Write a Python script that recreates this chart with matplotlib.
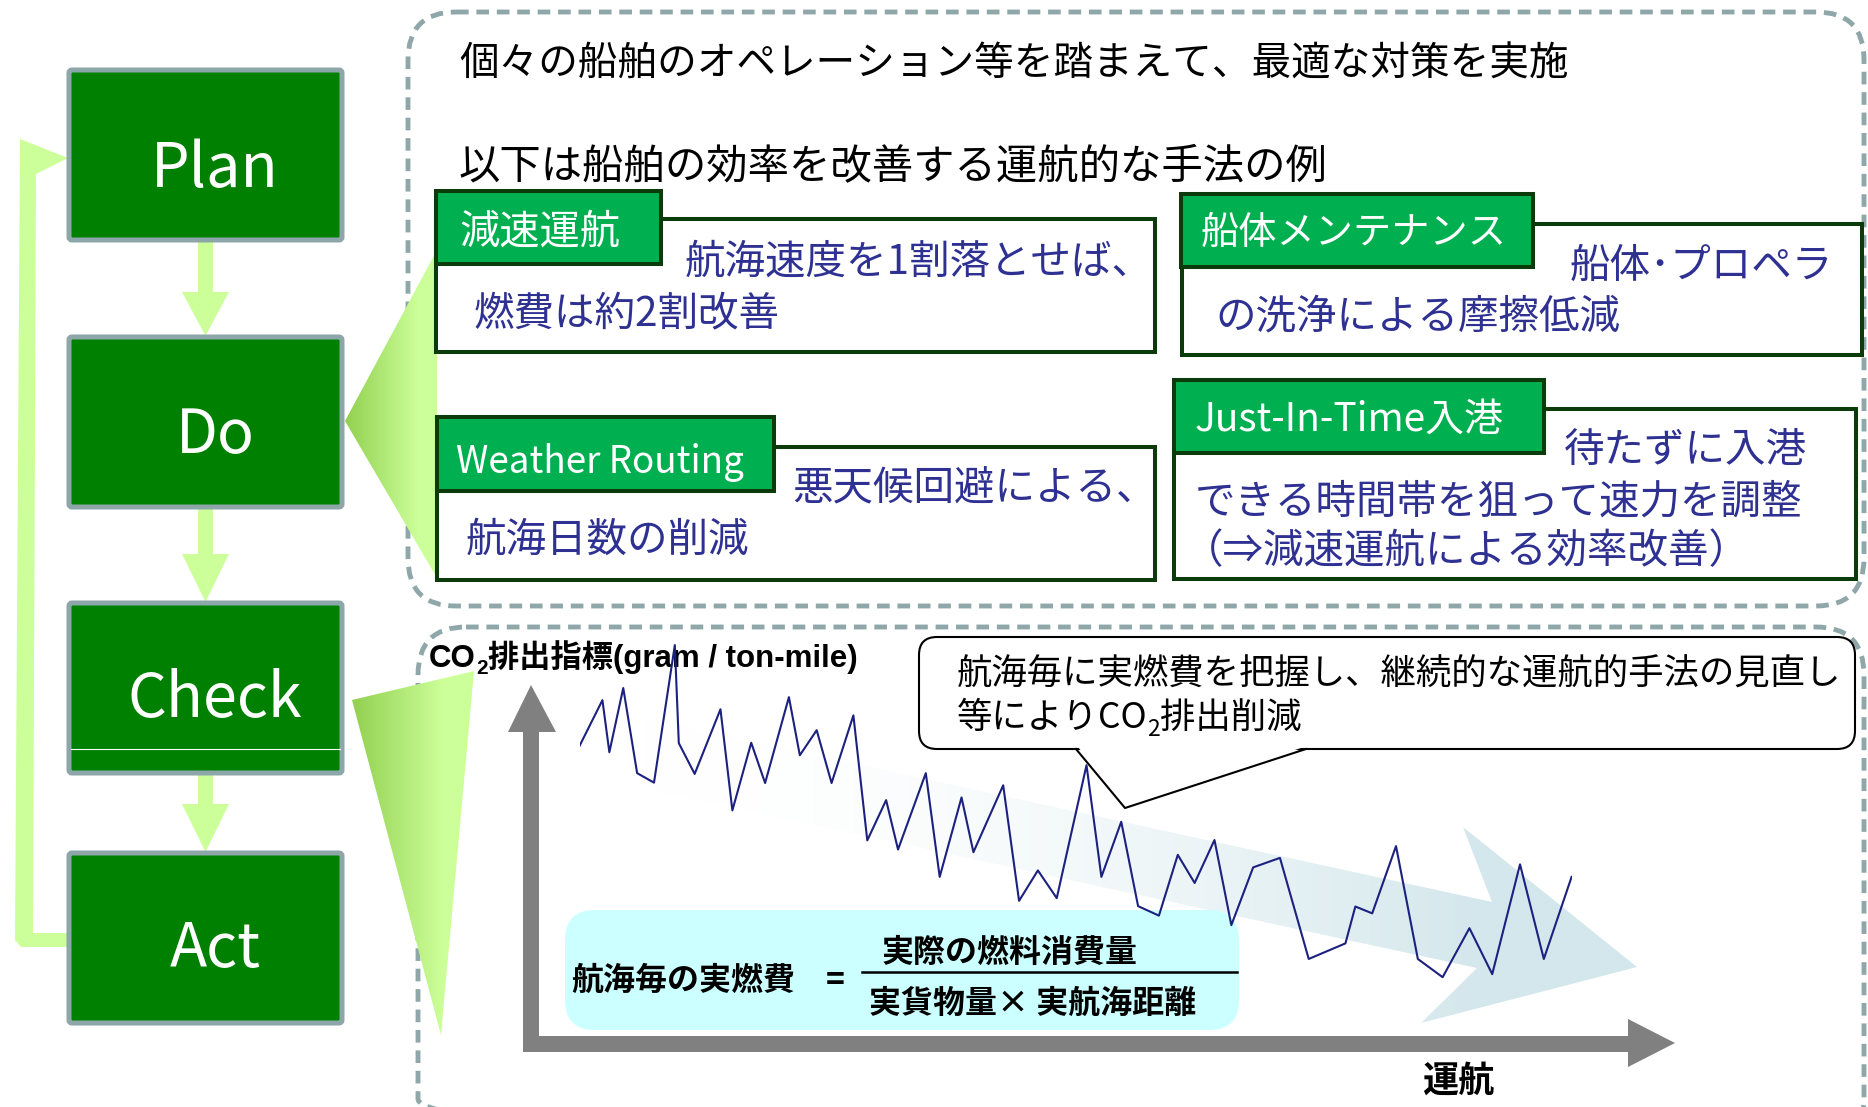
import matplotlib.pyplot as plt
import numpy as np
from matplotlib.patches import FancyBboxPatch, Polygon
from matplotlib.colors import to_rgb

plt.rcParams['font.family'] = ['Noto Sans CJK JP', 'DejaVu Sans']

# CO2 index per voyage (arbitrary units)
voyage = [0, 2.3, 3.0, 4.4, 5.8, 7.5, 9.6, 10.0, 11.6, 14.2, 15.4, 17.3, 18.7,
          21.1, 22.2, 23.9, 25.4, 27.6, 29.0, 30.9, 32.1, 34.9, 36.3, 38.5,
          39.7, 42.7, 44.3, 46.2, 48.1, 51.1, 52.6, 54.6, 56.3, 58.4, 60.3,
          62.0, 64.0, 65.7, 67.9, 70.6, 73.5, 77.2, 78.2, 79.9, 82.3, 84.5,
          87.0, 89.7, 92.0, 94.8, 97.2, 100]
co2_index = [66.9, 78.9, 65.2, 82.1, 59.7, 57.2, 93.4, 67.6, 59.5, 76.5, 49.9,
             67.7, 57.1, 79.7, 64.4, 71.0, 57.1, 74.9, 42.0, 52.6, 39.6, 59.7,
             32.4, 53.3, 38.9, 56.5, 26.1, 34.1, 26.8, 61.8, 32.4, 46.9, 24.7,
             22.2, 38.2, 30.8, 42.1, 19.7, 34.9, 37.4, 10.8, 14.9, 24.6, 22.8,
             40.5, 10.8, 6.0, 18.9, 6.8, 35.7, 10.8, 32.4]

pdca_labels = ['Plan', 'Do', 'Check', 'Act']
intro_lines = ['個々の船舶のオペレーション等を踏まえて、最適な対策を実施',
               '以下は船舶の効率を改善する運航的な手法の例']
measure_titles = ['減速運航', '船体メンテナンス', 'Weather Routing', 'Just-In-Time入港']
measure_texts = [['航海速度を1割落とせば、', '燃費は約2割改善'],
                 ['船体･プロペラ', 'の洗浄による摩擦低減'],
                 ['悪天候回避による、', '航海日数の削減'],
                 ['待たずに入港', 'できる時間帯を狙って速力を調整', '（⇒減速運航による効率改善）']]
callout_lines = ['航海毎に実燃費を把握し、継続的な運航的手法の見直し', '等により', 'CO', '2', '排出削減']
formula = ['航海毎の実燃費', '=', '実際の燃料消費量', '実貨物量× 実航海距離']
ylabel_parts = ['CO', '2', '排出指標(gram / ton-mile)']
xlabel = '運航'

W, H = 1868, 1107
fig = plt.figure(figsize=(W / 100, H / 100), dpi=100)
ax = fig.add_axes([0, 0, 1, 1])
ax.set_xlim(0, W)
ax.set_ylim(H, 0)
ax.axis('off')
rend = fig.canvas.get_renderer()

NAVY = '#2E3192'
DKGREEN = '#0B3B0B'
GREEN = '#00B050'
LIGHT = '#CCFF99'
DASH = '#8FA7A8'


def grad_poly(pts, c0, c1, z, a0=1.0, a1=1.0, x_stop=None):
    poly = Polygon(pts, closed=True, fc='none', ec='none')
    ax.add_patch(poly)
    xs = [p[0] for p in pts]
    ys = [p[1] for p in pts]
    x0, x1 = min(xs), max(xs)
    g = np.linspace(0, 1, 256)
    if x_stop is not None:
        g = np.clip(g / x_stop, 0, 1)
    c0, c1 = np.array(to_rgb(c0)), np.array(to_rgb(c1))
    rgba = np.zeros((1, 256, 4))
    rgba[0, :, :3] = c0 + (c1 - c0) * g[:, None]
    rgba[0, :, 3] = a0 + (a1 - a0) * g
    im = ax.imshow(rgba, extent=[x0, x1, max(ys), min(ys)], aspect='auto',
                   zorder=z, interpolation='bilinear')
    im.set_clip_path(poly)


def run_text(x, y, parts, **kw):
    for s, size, dy in parts:
        t = ax.text(x, y + dy, s, fontsize=size, ha='left', va='baseline', **kw)
        x += t.get_window_extent(renderer=rend).width
    return x


# dashed containers
ax.add_patch(FancyBboxPatch((408, 12), 1456, 594, boxstyle='round,pad=0,rounding_size=48',
                            fc='none', ec=DASH, lw=3.5, ls=(0, (2.6, 1.6)), zorder=1))
ax.add_patch(FancyBboxPatch((418, 627), 1446, 520, boxstyle='round,pad=0,rounding_size=48',
                            fc='none', ec=DASH, lw=3.5, ls=(0, (2.6, 1.6)), zorder=1))

# PDCA boxes
box_tops = [70, 337, 603, 853]
box_h = 170
base_y = [187, 453, 717, 967]
for lab, y0, by in zip(pdca_labels, box_tops, base_y):
    ax.add_patch(FancyBboxPatch((69, y0), 273, box_h, boxstyle='round,pad=0,rounding_size=3',
                                fc='#008000', ec='#8DA6A9', lw=3.6, zorder=3))
    ax.text(215, by, lab, color='white', fontsize=44, ha='center', va='baseline',
            family=['Liberation Sans Narrow', 'Noto Sans CJK JP'], zorder=4)
ax.plot([71, 340], [749, 749], color='white', lw=0.8, zorder=4)

# arrows between PDCA boxes
for s0, s1, tip in [(242, 292, 336), (506, 554, 602), (773, 804, 852)]:
    ax.add_patch(Polygon([(198, s0), (198, s1), (182, s1), (205.5, tip), (229, s1),
                          (213, s1), (213, s0)], closed=True, fc=LIGHT, ec='none', zorder=2))
# feedback loop Act -> Plan
ax.add_patch(Polygon([(68, 933), (33, 933), (36, 174), (68, 158), (20, 139), (15, 940),
                      (21, 947), (68, 947)], closed=True, fc=LIGHT, ec='none', zorder=2))

# funnels
grad_poly([(345, 421), (437, 250), (437, 578)], '#92D050', LIGHT, 2, x_stop=0.8)
grad_poly([(352, 700), (474, 671), (441, 1035)], '#92D050', LIGHT, 2, x_stop=0.75)

# top text
ax.text(459, 65, intro_lines[0], fontsize=28.5, va='center', ha='left', zorder=5)
ax.text(459, 167, intro_lines[1], fontsize=29.8, va='center', ha='left', zorder=5)

# measure boxes: (main box), (header tab)
mains = [(436, 219, 1155, 352), (1182, 224, 1862, 355), (437, 447, 1155, 580), (1174, 409, 1856, 579)]
heads = [(436, 191, 661, 264), (1181, 194, 1533, 267), (437, 417, 774, 491), (1174, 380, 1544, 453)]
title_pos = [(459, 232, 29), (1201, 233, 27.5), (456, 462, 26.5), (1195, 420, 28)]
text_pos = [[(685, 262), (474, 314)], [(1570, 266), (1215, 317)],
            [(792, 489), (466, 540)], [(1564, 450), (1195, 502), (1183, 552)]]
for m, hd, tp, title, lines, lp in zip(mains, heads, title_pos, measure_titles, measure_texts, text_pos):
    ax.add_patch(FancyBboxPatch((m[0], m[1]), m[2] - m[0], m[3] - m[1], boxstyle='square,pad=0',
                                fc='white', ec=DKGREEN, lw=2.9, zorder=3))
    ax.add_patch(FancyBboxPatch((hd[0], hd[1]), hd[2] - hd[0], hd[3] - hd[1], boxstyle='square,pad=0',
                                fc=GREEN, ec=DKGREEN, lw=2.9, zorder=4))
    ax.text(tp[0], tp[1], title, color='white', fontsize=tp[2], va='center', ha='left', zorder=5)
    for s, (x, y) in zip(lines, lp):
        ax.text(x, y, s, color=NAVY, fontsize=29.2, va='center', ha='left', zorder=5)

# trend arrow behind the line
grad_poly([(640, 717), (1492, 902), (1463, 827), (1637, 967), (1421, 1023), (1477, 968), (640, 787)],
          '#FFFFFF', '#D3E7EC', 2, a0=0.0, a1=1.0, x_stop=0.85)

# formula box
ax.add_patch(FancyBboxPatch((565, 910), 674, 120, boxstyle='round,pad=0,rounding_size=30',
                            fc='#CCFFFF', ec='none', zorder=3))
ax.text(571, 981, formula[0], fontsize=23, fontweight='bold', va='center', ha='left', zorder=5)
ax.text(826, 981, formula[1], fontsize=23, fontweight='bold', va='center', ha='left', zorder=5)
ax.text(882, 953, formula[2], fontsize=23, fontweight='bold', va='center', ha='left', zorder=5)
ax.text(869, 1004, formula[3], fontsize=23, fontweight='bold', va='center', ha='left', zorder=5)
ax.plot([862, 1237], [972, 972], color='black', lw=1.8, zorder=5)

# axes arrows
ax.add_patch(Polygon([(523, 1052), (523, 732), (508, 732), (531, 685), (556, 732), (539, 732),
                      (539, 1036), (1628, 1036), (1628, 1019), (1675, 1043), (1628, 1067),
                      (1628, 1052)], closed=True, fc='#808080', ec='none', zorder=4))
ax.text(1458, 1081, xlabel, fontsize=26, fontweight='bold', ha='center', va='center', zorder=5)
run_text(429, 667, [(ylabel_parts[0], 22.5, 0), (ylabel_parts[1], 15, 7), (ylabel_parts[2], 22.5, 0)],
         fontweight='bold', family=['Liberation Sans', 'Noto Sans CJK JP'], zorder=6)

# callout
ax.add_patch(FancyBboxPatch((919, 637), 936, 112, boxstyle='round,pad=0,rounding_size=18',
                            fc='white', ec='black', lw=1.5, zorder=5))
ax.add_patch(Polygon([(1078, 747), (1125, 806), (1304, 747)], closed=True, fc='white', ec='none', zorder=6))
ax.plot([1076, 1125, 1306], [749, 808, 749], color='black', lw=1.5, zorder=6)
ax.text(957, 675, callout_lines[0], fontsize=25.5, va='center', ha='left', zorder=7)
run_text(957, 728, [(callout_lines[1], 25.5, 0), (callout_lines[2], 25.5, 0),
                    (callout_lines[3], 16.5, 8), (callout_lines[4], 25.5, 0)], zorder=7)

ax.set_xlim(0, W)
ax.set_ylim(H, 0)

# the CO2 series
ax2 = fig.add_axes([579.6 / W, (H - 1000) / H, 992 / W, 380 / H])
ax2.patch.set_alpha(0)
ax2.plot(voyage, co2_index, color='#1C2180', lw=1.5)
ax2.set_xlim(0, 100)
ax2.set_ylim(0, 100)
ax2.axis('off')

fig.savefig('out.png', dpi=100)
